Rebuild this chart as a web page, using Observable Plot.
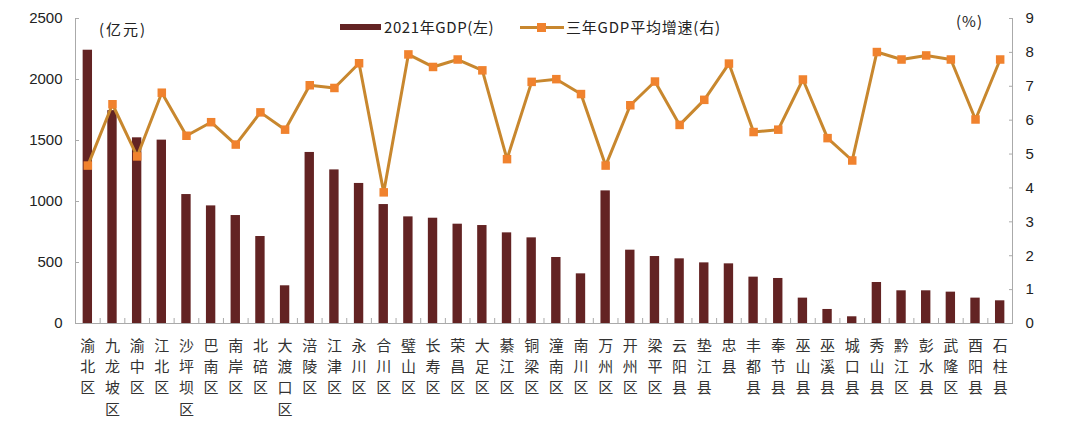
<!DOCTYPE html>
<html>
<head>
<meta charset="utf-8">
<script src="https://cdn.jsdelivr.net/npm/d3@7"></script>
<script src="https://cdn.jsdelivr.net/npm/@observablehq/plot@0.6"></script>
<style>
  html, body { margin: 0; padding: 0; background: #fff; }
  #wrap { position: relative; width: 1080px; height: 422px; overflow: hidden; }
  #wrap svg { position: absolute; left: 0; top: 0; }
  .lbl { position: absolute; font-family: "Noto Sans CJK SC", "Noto Sans", sans-serif; font-size: 15px; color: #222; white-space: nowrap; line-height: 1; }
</style>
</head>
<body>
<div id="wrap"></div>
<script>
// ---- data ----
const districts = ["渝北区","九龙坡区","渝中区","江北区","沙坪坝区","巴南区","南岸区","北碚区","大渡口区","涪陵区","江津区","永川区","合川区","璧山区","长寿区","荣昌区","大足区","綦江区","铜梁区","潼南区","南川区","万州区","开州区","梁平区","云阳县","垫江县","忠县","丰都县","奉节县","巫山县","巫溪县","城口县","秀山县","黔江区","彭水县","武隆区","酉阳县","石柱县"];
const gdp2021 = [2240,1745,1522,1503,1057,964,885,713,309,1402,1259,1148,975,874,863,814,803,743,702,541,407,1087,601,549,530,497,489,380,369,208,115,55,336,268,268,257,208,186];
const growth3y = [4.66,6.47,4.93,6.81,5.54,5.94,5.28,6.23,5.72,7.03,6.95,7.68,3.87,7.94,7.57,7.79,7.47,4.85,7.13,7.21,6.77,4.66,6.44,7.14,5.86,6.60,7.67,5.65,5.72,7.20,5.47,4.81,8.01,7.79,7.91,7.79,6.02,7.79];
const gdpTicks = [0,500,1000,1500,2000,2500];
const growthTicks = [0,1,2,3,4,5,6,7,8,9];
const seriesNames = ["2021年GDP(左)", "三年GDP平均增速(右)"];
const unitLeft = "(亿元)";
const unitRight = "(%)";

// ---- layout / style ----
const W = 1080, H = 422, ML = 75, MR = 68, MT = 18, MB = 99;
const barColor = "#632323", lineColor = "#C8872E", markColor = "#F0822E", axisColor = "#aaa";
const numFont = "'Liberation Sans', Arial, sans-serif";
const cjkFont = "'Noto Sans CJK SC', 'Noto Sans', sans-serif";
const step = (W - ML - MR) / districts.length;
const tickLen = 5;
const xScale = {domain: districts, paddingInner: 0.62, paddingOuter: 0.31, round: false, label: null};

const rows = districts.map((d, i) => ({district: d, gdp: gdp2021[i], g: growth3y[i]}));
const wrap = document.getElementById("wrap");

const barPlot = Plot.plot({
  width: W, height: H, marginLeft: ML, marginRight: MR, marginTop: MT, marginBottom: MB,
  style: {background: "transparent", fontFamily: numFont, fontSize: "15px", color: "#222"},
  x: {...xScale, axis: null},
  y: {domain: [0, 2500], label: null, axis: null},
  marks: [
    Plot.barY(rows, {x: "district", y: "gdp", fill: barColor}),
    Plot.ruleY([0], {stroke: axisColor}),
    Plot.frame({anchor: "left", stroke: axisColor}),
    Plot.axisY({ticks: gdpTicks, tickSize: -4, tickPadding: 17, stroke: axisColor, fill: "#222",
      fontFamily: numFont, fontSize: 15, label: null, tickFormat: d => String(d)}),
    Plot.ruleX(districts, {x: d => d, dx: step / 2, y1: 0, y2: 2500 * tickLen / (H - MT - MB), stroke: axisColor}),
    Plot.axisX({tickSize: 0, tickPadding: 12, fontFamily: cjkFont, fontSize: 15, fill: "#333",
      lineHeight: 1.42, label: null, tickFormat: d => Array.from(d).join("\n")})
  ]
});
wrap.appendChild(barPlot);

const linePlot = Plot.plot({
  width: W, height: H, marginLeft: ML, marginRight: MR, marginTop: MT, marginBottom: MB,
  style: {background: "transparent", fontFamily: numFont, fontSize: "15px", color: "#222"},
  x: {...xScale, axis: null},
  y: {domain: [0, 9], label: null, axis: null},
  marks: [
    Plot.frame({anchor: "right", stroke: axisColor}),
    Plot.axisY({anchor: "right", ticks: growthTicks, tickSize: -4, tickPadding: 17, stroke: axisColor, fill: "#222",
      fontFamily: numFont, fontSize: 15, label: null}),
    Plot.line(rows, {x: "district", y: "g", stroke: lineColor, strokeWidth: 3}),
    Plot.dot(rows, {x: "district", y: "g", symbol: "square", r: 4.8, fill: markColor, stroke: "none"})
  ]
});
wrap.appendChild(linePlot);

// ---- legend & unit labels ----
function addLabel(text, left, top, spacing) {
  const el = document.createElement("div");
  el.className = "lbl";
  el.textContent = text;
  el.style.left = left + "px";
  el.style.top = top + "px";
  if (spacing) el.style.letterSpacing = spacing + "px";
  wrap.appendChild(el);
  return el;
}
function addBox(left, top, w, h, color) {
  const el = document.createElement("div");
  el.style.cssText = `position:absolute;left:${left}px;top:${top}px;width:${w}px;height:${h}px;background:${color}`;
  wrap.appendChild(el);
}
addBox(340, 24, 41, 6, barColor);
addLabel(seriesNames[0], 384, 19, 0.6);
addBox(520, 26, 44, 3, lineColor);
addBox(537, 23, 9, 9, markColor);
addLabel(seriesNames[1], 566, 19, 0.8);
addLabel(unitLeft, 99, 21, 2);
addLabel(unitRight, 956, 13, 1);
</script>
</body>
</html>
